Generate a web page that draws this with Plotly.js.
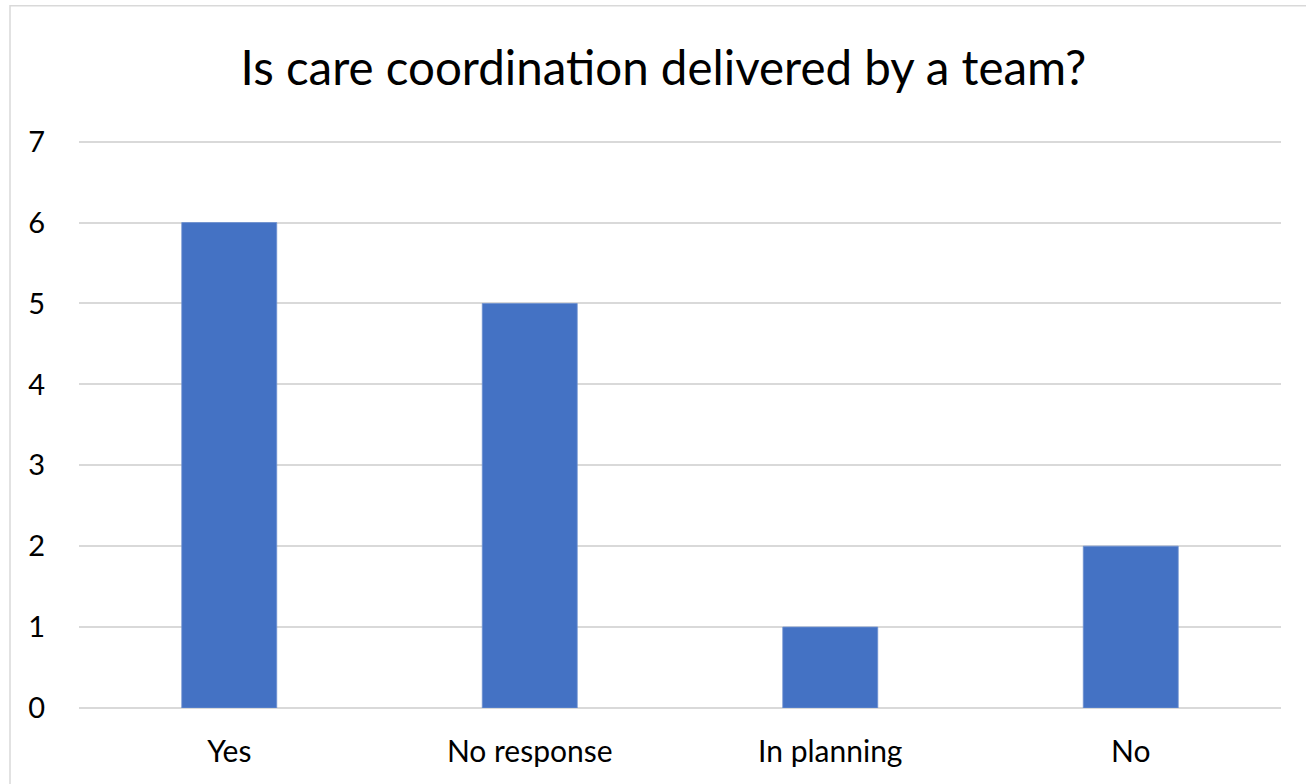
<!DOCTYPE html>
<html>
<head>
<meta charset="utf-8">
<script src="https://cdn.plot.ly/plotly-3.0.1.min.js"></script>
<style>html,body{margin:0;padding:0;background:#fff;}#chart{width:1306px;height:784px;}</style>
</head>
<body>
<div id="chart"></div>
<script>
const categories = ["Yes", "No response", "In planning", "No"];
const counts = [6, 5, 1, 2];
const yTicks = [0, 1, 2, 3, 4, 5, 6, 7];
const chartTitle = "Is care coordination delivered by a team?";

const FONT = "Lato, 'Open Sans', sans-serif";
const trace = {
  type: "bar",
  x: categories,
  y: counts,
  marker: { color: "#4472C4", line: { width: 0.8, color: "#6d90d0" } },
  hoverinfo: "x+y"
};
const layout = {
  width: 1306, height: 784,
  paper_bgcolor: "#ffffff", plot_bgcolor: "#ffffff",
  margin: { l: 79, r: 25, t: 138, b: 76 },
  bargap: 0.684,
  showlegend: false,
  font: { family: FONT, color: "#000000" },
  title: {
    text: chartTitle,
    font: { family: FONT, size: 47.5, color: "#000000" },
    xref: "container", x: 0.508, xanchor: "center",
    yref: "container", y: 0.913, yanchor: "middle"
  },
  xaxis: {
    type: "category",
    showgrid: false, zeroline: false, showline: false,
    ticks: "outside", ticklen: 17, tickcolor: "rgba(0,0,0,0)",
    tickfont: { family: FONT, size: 30, color: "#000000" }
  },
  yaxis: {
    range: [0, 7.045],
    tickvals: yTicks,
    ticktext: yTicks.map(String),
    showgrid: true, gridcolor: "#d9d9d9", gridwidth: 2,
    zeroline: true, zerolinecolor: "#d9d9d9", zerolinewidth: 2,
    showline: false,
    ticks: "outside", ticklen: 27, tickcolor: "rgba(0,0,0,0)",
    tickfont: { family: FONT, size: 29, color: "#000000" }
  },
  shapes: [{
    type: "rect", xref: "paper", yref: "paper",
    x0: -0.0574, x1: 1.03, y0: -0.16, y1: 1.232,
    line: { color: "#d9d9d9", width: 1.5 }, fillcolor: "rgba(0,0,0,0)", layer: "below"
  }]
};
Plotly.newPlot("chart", [trace], layout, { displayModeBar: false, staticPlot: true });
</script>
</body>
</html>
